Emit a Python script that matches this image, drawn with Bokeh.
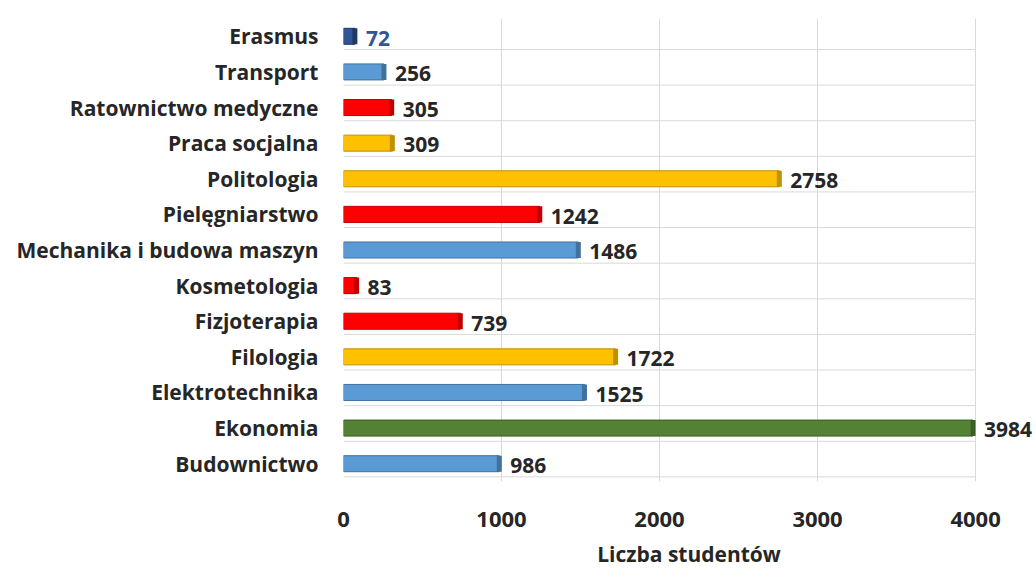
from bokeh.plotting import figure
from bokeh.models import ColumnDataSource, FixedTicker, LabelSet
from bokeh.transform import dodge
from bokeh.core.properties import value
from bokeh.embed import file_html
from bokeh.resources import INLINE

categories = ["Budownictwo", "Ekonomia", "Elektrotechnika", "Filologia", "Fizjoterapia",
              "Kosmetologia", "Mechanika i budowa maszyn", "Pielęgniarstwo", "Politologia",
              "Praca socjalna", "Ratownictwo medyczne", "Transport", "Erasmus"]
values = [986, 3984, 1525, 1722, 739, 83, 1486, 1242, 2758, 309, 305, 256, 72]
fill_colors = ["#5b9bd5", "#548235", "#5b9bd5", "#ffc000", "#ff0000", "#ff0000", "#5b9bd5",
               "#ff0000", "#ffc000", "#ffc000", "#ff0000", "#5b9bd5", "#2f5597"]
edge_colors = ["#41719c", "#3b5e25", "#41719c", "#bf9000", "#c00000", "#c00000", "#41719c",
               "#c00000", "#bf9000", "#bf9000", "#c00000", "#41719c", "#1f3864"]
label_colors = ["#262626"] * 12 + ["#2f5597"]
x_ticks = [0, 1000, 2000, 3000, 4000]
axis_title = "Liczba studentów"

FONT = "Open Sans"

src = ColumnDataSource(dict(cat=categories, val=values, fill=fill_colors, edge=edge_colors,
                            lab=[str(v) for v in values], lcol=label_colors,
                            x0=[0] * len(categories), x1=[x_ticks[-1]] * len(categories)))

p = figure(y_range=categories, x_range=(0, 4373), width=1036, height=570,
           output_backend="svg", toolbar_location=None,
           min_border_left=343, min_border_right=2, min_border_top=18, min_border_bottom=87)
p.outline_line_color = None

# horizontal "floor" lines below each bar
p.segment(x0="x0", x1="x1", y0=dodge("cat", -0.37, range=p.y_range),
          y1=dodge("cat", -0.37, range=p.y_range), source=src,
          line_color="#d9d9d9", line_width=1)

p.hbar(y="cat", right="val", left=0, height=0.45, source=src,
       fill_color="fill", line_color="edge", line_width=1)
# darker 3D end cap
p.rect(x="val", y="cat", width=5, width_units="screen", height=0.45, source=src,
       fill_color="edge", line_color=None)

labels = LabelSet(x="val", y=dodge("cat", -0.05, range=p.y_range), text="lab", source=src,
                  x_offset=11, text_baseline="middle", text_align="left",
                  text_font=value(FONT), text_font_style="bold", text_font_size="21px",
                  text_color="lcol")
p.add_layout(labels)

p.xaxis.ticker = FixedTicker(ticks=x_ticks)
p.xgrid.ticker = FixedTicker(ticks=x_ticks)
p.xgrid.grid_line_color = "#d9d9d9"
p.ygrid.grid_line_color = None

for ax in (p.xaxis[0], p.yaxis[0]):
    ax.axis_line_color = None
    ax.major_tick_line_color = None
    ax.minor_tick_line_color = None
    ax.major_label_text_font = FONT
    ax.major_label_text_font_style = "bold"
    ax.major_label_text_color = "#262626"

p.yaxis.major_label_text_font_size = "21px"
p.xaxis.major_label_text_font_size = "22px"
p.yaxis.major_label_standoff = 19
p.xaxis.major_label_standoff = 24
p.xaxis.axis_label = axis_title
p.xaxis.axis_label_text_font = FONT
p.xaxis.axis_label_text_font_style = "bold"
p.xaxis.axis_label_text_font_size = "21px"
p.xaxis.axis_label_text_color = "#262626"
p.xaxis.axis_label_standoff = 10

open("out.html", "w").write(file_html(p, INLINE))
